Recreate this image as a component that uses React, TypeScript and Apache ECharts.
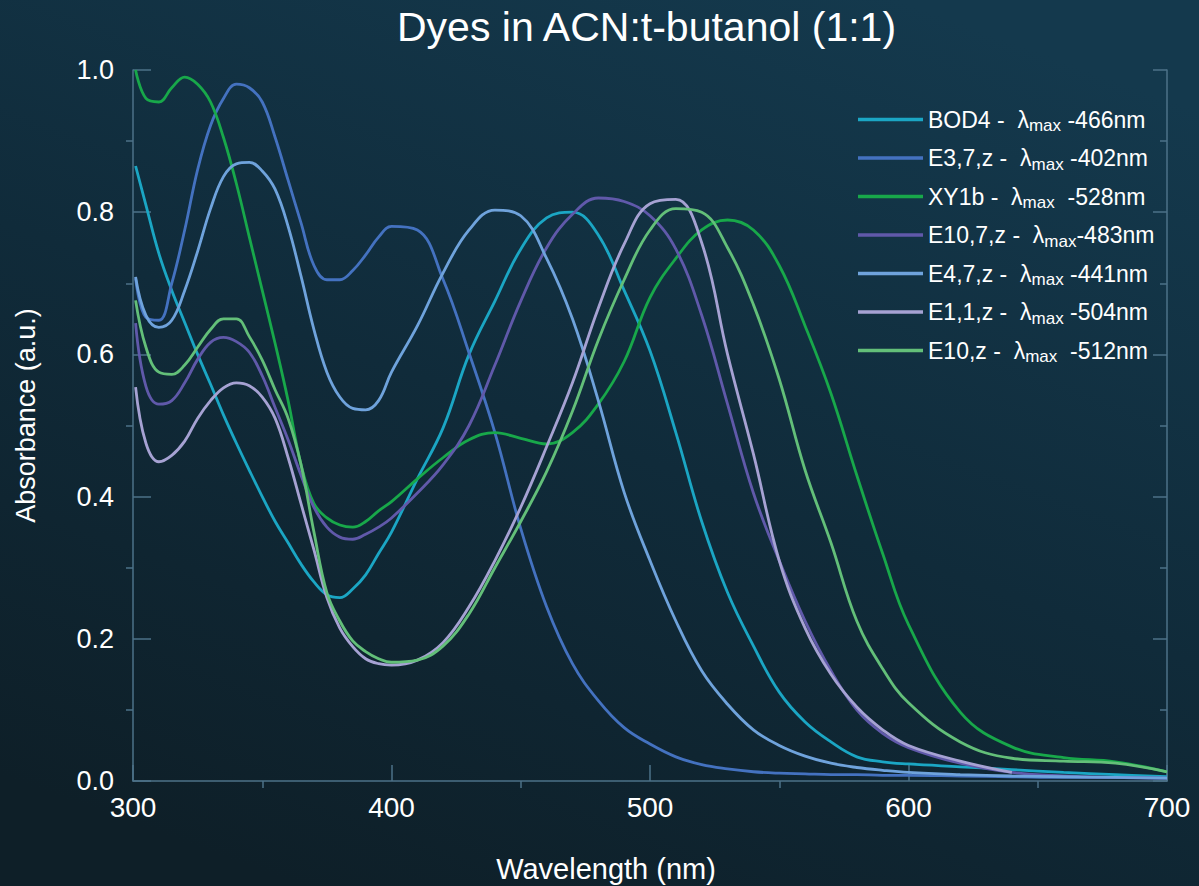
import React, { useEffect, useRef } from "react";
import * as echarts from "echarts";

const TITLE = "Dyes in ACN:t-butanol (1:1)";
const X_NAME = "Wavelength (nm)";
const Y_NAME = "Absorbance (a.u.)";

const WL = [301, 305, 310, 315, 320, 325, 330, 335, 340, 345, 350, 355, 360, 365, 370, 375, 380, 385, 390, 395, 400,
  410, 420, 430, 440, 450, 460, 470, 480, 490, 500, 510, 520, 530, 540, 550, 560, 570, 580, 590, 600,
  620, 640, 660, 680, 700];

const BOD4 = [0.865, 0.81, 0.742, 0.69, 0.645, 0.6, 0.558, 0.515, 0.475, 0.437, 0.4, 0.365, 0.335, 0.305, 0.28, 0.262, 0.258, 0.27, 0.29, 0.32, 0.35,
  0.425, 0.497, 0.6, 0.675, 0.748, 0.792, 0.8, 0.768, 0.69, 0.605, 0.49, 0.365, 0.265, 0.19, 0.125, 0.083, 0.055, 0.034, 0.027, 0.024,
  0.02, 0.016, 0.012, 0.009, 0.006];
const E37Z = [0.707, 0.652, 0.648, 0.7, 0.775, 0.86, 0.922, 0.96, 0.98, 0.975, 0.955, 0.905, 0.845, 0.785, 0.725, 0.705, 0.705, 0.718, 0.74, 0.765, 0.78,
  0.775, 0.705, 0.602, 0.49, 0.355, 0.245, 0.165, 0.113, 0.075, 0.052, 0.034, 0.023, 0.017, 0.013, 0.011, 0.01, 0.009, 0.009, 0.008, 0.008,
  0.007, 0.006, 0.005, 0.005, 0.004];
const XY1B = [1.0, 0.96, 0.955, 0.975, 0.99, 0.98, 0.955, 0.905, 0.84, 0.765, 0.69, 0.615, 0.535, 0.445, 0.39, 0.37, 0.36, 0.357, 0.365, 0.38, 0.393,
  0.425, 0.455, 0.48, 0.49, 0.482, 0.474, 0.49, 0.53, 0.59, 0.68, 0.735, 0.775, 0.789, 0.775, 0.725, 0.64, 0.545, 0.43, 0.32, 0.22,
  0.097, 0.048, 0.033, 0.027, 0.013];
const E107Z = [0.644, 0.555, 0.53, 0.535, 0.56, 0.593, 0.617, 0.624, 0.618, 0.603, 0.57, 0.525, 0.48, 0.43, 0.385, 0.357, 0.343, 0.34, 0.347, 0.357, 0.37,
  0.405, 0.445, 0.5, 0.585, 0.675, 0.75, 0.797, 0.82, 0.815, 0.795, 0.748, 0.655, 0.53, 0.405, 0.31, 0.225, 0.155, 0.1, 0.067, 0.047,
  0.025, 0.012, 0.007, 0.005, 0.004];
const E47Z = [0.709, 0.655, 0.638, 0.648, 0.69, 0.745, 0.805, 0.85, 0.868, 0.87, 0.858, 0.832, 0.78, 0.71, 0.635, 0.575, 0.54, 0.524, 0.522, 0.535, 0.575,
  0.64, 0.715, 0.775, 0.803, 0.795, 0.735, 0.65, 0.535, 0.406, 0.31, 0.225, 0.155, 0.108, 0.072, 0.05, 0.035, 0.025, 0.019, 0.015, 0.012,
  0.009, 0.007, 0.006, 0.005, 0.004];
const E11Z = [0.554, 0.475, 0.449, 0.458, 0.478, 0.51, 0.535, 0.553, 0.56, 0.556, 0.54, 0.51, 0.455, 0.39, 0.325, 0.258, 0.215, 0.189, 0.172, 0.165, 0.163,
  0.17, 0.195, 0.245, 0.31, 0.385, 0.47, 0.56, 0.665, 0.755, 0.812, 0.818, 0.757, 0.6, 0.46, 0.31, 0.215, 0.15, 0.104, 0.072, 0.05,
  0.028, 0.012, null, null, null];
const E10Z = [0.676, 0.61, 0.575, 0.572, 0.585, 0.61, 0.635, 0.65, 0.65, 0.625, 0.592, 0.55, 0.51, 0.445, 0.35, 0.265, 0.225, 0.197, 0.182, 0.172, 0.167,
  0.17, 0.19, 0.235, 0.3, 0.365, 0.435, 0.52, 0.62, 0.705, 0.775, 0.805, 0.8, 0.75, 0.67, 0.565, 0.437, 0.335, 0.225, 0.158, 0.11,
  0.055, 0.032, 0.028, 0.025, 0.013];

const SERIES_NAMES = ["BOD4", "E3,7,z", "XY1b", "E10,7,z", "E4,7,z", "E1,1,z", "E10,z"];
const LEGEND_LABELS = [
  "BOD4 -  λ{sub|max} -466nm",
  "E3,7,z -  λ{sub|max} -402nm",
  "XY1b -  λ{sub|max}  -528nm",
  "E10,7,z -  λ{sub|max}-483nm",
  "E4,7,z -  λ{sub|max} -441nm",
  "E1,1,z -  λ{sub|max} -504nm",
  "E10,z -  λ{sub|max}  -512nm",
];
const SERIES_VALUES = [BOD4, E37Z, XY1B, E107Z, E47Z, E11Z, E10Z];
const COLORS = ["#1ba6c4", "#4472c0", "#18a84a", "#6059aa", "#6fa3dc", "#a6a2d3", "#63bf79"];

const X_MINOR = [350, 450, 550, 650];
const Y_MINOR = [0.1, 0.3, 0.5, 0.7, 0.9];

const FONT = "'Liberation Sans', Arial, Helvetica, sans-serif";
const AXIS_COLOR = "#4d7288";

export default function App() {
  const ref = useRef<HTMLDivElement>(null);
  useEffect(() => {
    if (!ref.current) return;
    const chart = echarts.init(ref.current, undefined, { renderer: "svg" });
    const labelMap: Record<string, string> = {};
    SERIES_NAMES.forEach((n, i) => (labelMap[n] = LEGEND_LABELS[i]));

    const series = SERIES_NAMES.map((name, i) => ({
      name,
      type: "line",
      xAxisIndex: 0,
      yAxisIndex: 0,
      showSymbol: false,
      symbol: "none",
      smooth: 0.4,
      connectNulls: false,
      lineStyle: { width: 2.8, color: COLORS[i] },
      itemStyle: { color: COLORS[i] },
      data: WL.map((w, j) => [w, SERIES_VALUES[i][j]]).filter((p) => p[1] !== null),
    }));

    const option: any = {
      animation: false,
      backgroundColor: {
        type: "linear",
        x: 0.75, y: 0, x2: 0.25, y2: 1,
        colorStops: [
          { offset: 0, color: "#14394d" },
          { offset: 0.5, color: "#102b3a" },
          { offset: 1, color: "#0e1f28" },
        ],
      },
      title: {
        text: TITLE,
        left: 392,
        top: 1,
        textStyle: { color: "#ffffff", fontSize: 41, fontWeight: "normal", fontFamily: FONT },
      },
      legend: {
        orient: "vertical",
        left: 853,
        top: 103,
        itemWidth: 65,
        itemHeight: 3.5,
        itemGap: 12.5,
        icon: "rect",
        data: SERIES_NAMES.map((n, i) => ({ name: n, itemStyle: { color: COLORS[i] } })),
        formatter: (n: string) => labelMap[n],
        textStyle: {
          color: "#ffffff",
          fontSize: 23,
          fontFamily: FONT,
          rich: {
            sub: { fontSize: 17, color: "#ffffff", fontFamily: FONT, padding: [12, 0, 0, 0] },
          },
        },
      },
      grid: { left: 133, right: 32, top: 70, bottom: 105, outerBoundsMode: "none", containLabel: false },
      xAxis: [
        {
          type: "value",
          min: 300,
          max: 700,
          interval: 100,
          position: "bottom",
          name: X_NAME,
          nameLocation: "middle",
          nameGap: 73,
          nameTextStyle: { color: "#ffffff", fontSize: 29, fontFamily: FONT, padding: [0, 88, 0, 0] },
          axisLine: { show: true, lineStyle: { color: AXIS_COLOR, width: 1.5 } },
          axisTick: { show: true, inside: true, length: 16, lineStyle: { color: AXIS_COLOR, width: 1.5 } },
          axisLabel: { color: "#ffffff", fontSize: 28, fontFamily: FONT, margin: 12 },
          splitLine: { show: false },
        },
        {
          type: "value",
          min: 300,
          max: 700,
          interval: 50,
          position: "bottom",
          axisLine: { show: false },
          axisTick: { show: true, inside: false, length: 7, customValues: X_MINOR, lineStyle: { color: AXIS_COLOR, width: 1.5 } },
          axisLabel: { show: false },
          splitLine: { show: false },
        },
      ],
      yAxis: [
        {
          type: "value",
          min: 0,
          max: 1,
          interval: 0.2,
          position: "left",
          name: Y_NAME,
          nameLocation: "middle",
          nameGap: 94,
          nameTextStyle: { color: "#ffffff", fontSize: 27, fontFamily: FONT, padding: [0, 0, 0, 20] },
          axisLine: { show: true, lineStyle: { color: AXIS_COLOR, width: 1.5 } },
          axisTick: { show: true, inside: true, length: 18, lineStyle: { color: AXIS_COLOR, width: 1.5 } },
          axisLabel: { color: "#ffffff", fontSize: 27, fontFamily: FONT, margin: 19, formatter: (v: number) => v.toFixed(1) },
          splitLine: { show: false },
        },
        {
          type: "value",
          min: 0,
          max: 1,
          interval: 0.1,
          position: "left",
          axisLine: { show: false },
          axisTick: { show: true, inside: false, length: 7, customValues: Y_MINOR, lineStyle: { color: AXIS_COLOR, width: 1.5 } },
          axisLabel: { show: false },
          splitLine: { show: false },
        },
        {
          type: "value",
          min: 0,
          max: 1,
          interval: 0.2,
          position: "right",
          axisLine: { show: true, lineStyle: { color: AXIS_COLOR, width: 1.5 } },
          axisTick: { show: true, inside: true, length: 14, lineStyle: { color: AXIS_COLOR, width: 1.5 } },
          axisLabel: { show: false },
          splitLine: { show: false },
        },
        {
          type: "value",
          min: 0,
          max: 1,
          interval: 0.1,
          position: "right",
          axisLine: { show: false },
          axisTick: { show: true, inside: true, length: 7, customValues: Y_MINOR, lineStyle: { color: AXIS_COLOR, width: 1.5 } },
          axisLabel: { show: false },
          splitLine: { show: false },
        },
      ],
      series,
    };
    chart.setOption(option);
    return () => chart.dispose();
  }, []);
  return (
    <div
      ref={ref}
      style={{ position: "fixed", left: 0, top: 0, width: "1199px", height: "886px" }}
    />
  );
}
